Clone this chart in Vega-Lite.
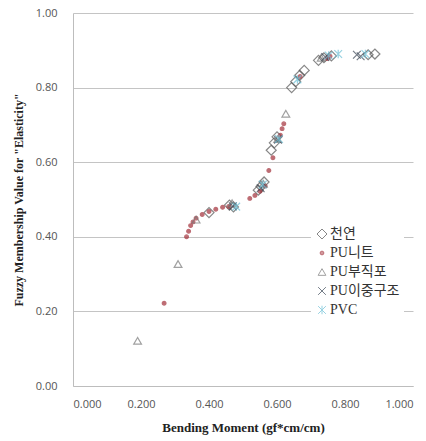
{
  "$schema": "https://vega.github.io/schema/vega-lite/v6.json",
  "autosize": "none",
  "width": 340,
  "height": 373,
  "padding": {"left": 73, "top": 13, "right": 13, "bottom": 55},
  "background": "white",
  "config": {"view": {"stroke": null}},
  "data": {"values": [
    {"s": "천연", "x": 0.400, "y": 0.465},
    {"s": "천연", "x": 0.460, "y": 0.485},
    {"s": "천연", "x": 0.472, "y": 0.480},
    {"s": "천연", "x": 0.545, "y": 0.525},
    {"s": "천연", "x": 0.553, "y": 0.535},
    {"s": "천연", "x": 0.562, "y": 0.547},
    {"s": "천연", "x": 0.583, "y": 0.632},
    {"s": "천연", "x": 0.592, "y": 0.652},
    {"s": "천연", "x": 0.600, "y": 0.668},
    {"s": "천연", "x": 0.643, "y": 0.800},
    {"s": "천연", "x": 0.655, "y": 0.816},
    {"s": "천연", "x": 0.667, "y": 0.833},
    {"s": "천연", "x": 0.680, "y": 0.846},
    {"s": "천연", "x": 0.722, "y": 0.873},
    {"s": "천연", "x": 0.738, "y": 0.880},
    {"s": "천연", "x": 0.760, "y": 0.885},
    {"s": "천연", "x": 0.868, "y": 0.888},
    {"s": "천연", "x": 0.888, "y": 0.890},
    {"s": "PU니트", "x": 0.268, "y": 0.222},
    {"s": "PU니트", "x": 0.334, "y": 0.400},
    {"s": "PU니트", "x": 0.340, "y": 0.415},
    {"s": "PU니트", "x": 0.346, "y": 0.430},
    {"s": "PU니트", "x": 0.353, "y": 0.440},
    {"s": "PU니트", "x": 0.362, "y": 0.450},
    {"s": "PU니트", "x": 0.380, "y": 0.460},
    {"s": "PU니트", "x": 0.400, "y": 0.468},
    {"s": "PU니트", "x": 0.420, "y": 0.474},
    {"s": "PU니트", "x": 0.440, "y": 0.479},
    {"s": "PU니트", "x": 0.458, "y": 0.481},
    {"s": "PU니트", "x": 0.520, "y": 0.503},
    {"s": "PU니트", "x": 0.535, "y": 0.511},
    {"s": "PU니트", "x": 0.550, "y": 0.522},
    {"s": "PU니트", "x": 0.565, "y": 0.536},
    {"s": "PU니트", "x": 0.576, "y": 0.578},
    {"s": "PU니트", "x": 0.588, "y": 0.612},
    {"s": "PU니트", "x": 0.610, "y": 0.672},
    {"s": "PU니트", "x": 0.615, "y": 0.690},
    {"s": "PU니트", "x": 0.620, "y": 0.703},
    {"s": "PU니트", "x": 0.668, "y": 0.830},
    {"s": "PU니트", "x": 0.748, "y": 0.878},
    {"s": "PU니트", "x": 0.756, "y": 0.884},
    {"s": "PU부직포", "x": 0.190, "y": 0.121},
    {"s": "PU부직포", "x": 0.309, "y": 0.327},
    {"s": "PU부직포", "x": 0.362, "y": 0.446},
    {"s": "PU부직포", "x": 0.468, "y": 0.490},
    {"s": "PU부직포", "x": 0.560, "y": 0.542},
    {"s": "PU부직포", "x": 0.602, "y": 0.662},
    {"s": "PU부직포", "x": 0.626, "y": 0.730},
    {"s": "PU부직포", "x": 0.730, "y": 0.880},
    {"s": "PU이중구조", "x": 0.470, "y": 0.482},
    {"s": "PU이중구조", "x": 0.552, "y": 0.530},
    {"s": "PU이중구조", "x": 0.603, "y": 0.660},
    {"s": "PU이중구조", "x": 0.742, "y": 0.882},
    {"s": "PU이중구조", "x": 0.835, "y": 0.888},
    {"s": "PU이중구조", "x": 0.846, "y": 0.884},
    {"s": "PVC", "x": 0.480, "y": 0.481},
    {"s": "PVC", "x": 0.558, "y": 0.540},
    {"s": "PVC", "x": 0.606, "y": 0.662},
    {"s": "PVC", "x": 0.660, "y": 0.822},
    {"s": "PVC", "x": 0.752, "y": 0.886},
    {"s": "PVC", "x": 0.780, "y": 0.890},
    {"s": "PVC", "x": 0.860, "y": 0.890}
  ]},
  "mark": {"type": "point", "filled": true, "strokeWidth": 1.2},
  "encoding": {
    "x": {
      "field": "x", "type": "quantitative",
      "scale": {"domain": [0, 1], "nice": false},
      "axis": {
        "title": "Bending Moment (gf*cm/cm)",
        "format": ".3f", "values": [0, 0.2, 0.4, 0.6, 0.8, 1.0],
        "grid": false, "ticks": false, "domainColor": "#bdbdbd",
        "labelFont": "Open Sans", "labelFontSize": 11, "labelColor": "#555555",
        "labelPadding": 12,
        "titleFont": "Liberation Serif", "titleFontSize": 13, "titleFontWeight": "bold",
        "titleColor": "#222222", "titlePadding": 12
      }
    },
    "y": {
      "field": "y", "type": "quantitative",
      "scale": {"domain": [0, 1], "nice": false},
      "axis": {
        "title": "Fuzzy Membership Value for \"Elasticity\"",
        "format": ".2f", "values": [0, 0.2, 0.4, 0.6, 0.8, 1.0],
        "grid": true, "gridColor": "#c4c4c4", "ticks": false, "domainColor": "#bdbdbd",
        "labelFont": "Open Sans", "labelFontSize": 11, "labelColor": "#555555",
        "labelPadding": 16,
        "titleFont": "Liberation Serif", "titleFontSize": 12, "titleFontWeight": "bold",
        "titleColor": "#222222", "titlePadding": 10
      }
    },
    "shape": {
      "field": "s", "type": "nominal",
      "scale": {
        "domain": ["천연", "PU니트", "PU부직포", "PU이중구조", "PVC"],
        "range": ["diamond", "circle", "triangle-up", "M-1,-1L1,1M-1,1L1,-1", "M-1,-1L1,1M-1,1L1,-1M0,-1.1L0,1.1"]
      },
      "legend": {
        "title": null, "orient": "none", "legendX": 238, "legendY": 210,
        "fillColor": "white", "padding": 4, "rowPadding": 5,
        "labelFont": "Liberation Serif, Noto Sans CJK KR", "labelFontSize": 14,
        "labelColor": "#333333", "labelOffset": 1, "symbolStrokeWidth": 1,
        "symbolOffset": 0,
        "encode": {"symbols": {"update": {"size": {"value": 22}}}}
      }
    },
    "fill": {
      "field": "s", "type": "nominal",
      "scale": {
        "domain": ["천연", "PU니트", "PU부직포", "PU이중구조", "PVC"],
        "range": ["transparent", "#a3303a", "transparent", "transparent", "transparent"]
      }
    },
    "stroke": {
      "field": "s", "type": "nominal",
      "scale": {
        "domain": ["천연", "PU니트", "PU부직포", "PU이중구조", "PVC"],
        "range": ["#555555", "#a3303a", "#7a7a7a", "#3b4756", "#6cc0d6"]
      }
    },
    "size": {
      "field": "s", "type": "nominal",
      "scale": {
        "type": "ordinal",
        "domain": ["천연", "PU니트", "PU부직포", "PU이중구조", "PVC"],
        "range": [100, 14, 60, 60, 60]
      }
    }
  }
}
